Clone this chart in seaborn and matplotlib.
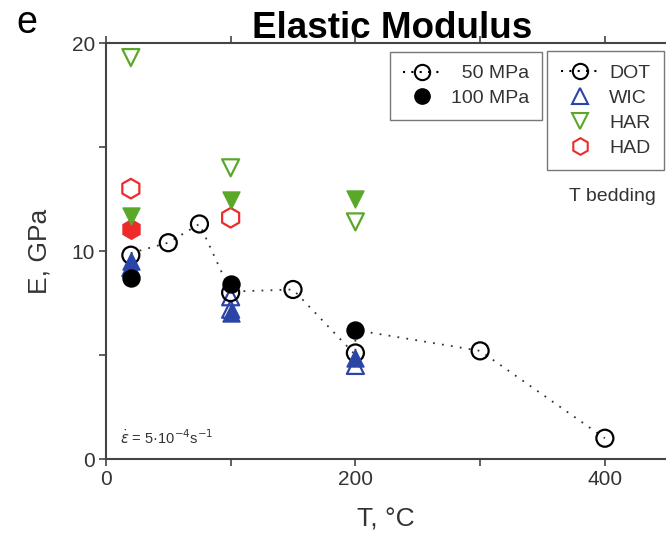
import pandas as pd
import matplotlib
matplotlib.use("Agg")
import matplotlib.pyplot as plt
from matplotlib.lines import Line2D
import seaborn as sns

# ---- data ----
# DOT, 50 MPa (open circles)
dot50_T = [20, 50, 75, 100, 150, 200, 300, 400]
dot50_E = [9.8, 10.4, 11.3, 8.0, 8.15, 5.1, 5.2, 1.0]
# DOT, 100 MPa (filled circles)
dot100_T = [20, 100, 200]
dot100_E = [8.7, 8.4, 6.2]
# WIC
wic50_T = [20, 100, 100, 200]
wic50_E = [9.2, 7.8, 7.2, 4.5]
wic100_T = [20, 100, 200]
wic100_E = [9.5, 7.0, 4.85]
# HAR
har50_T = [20, 100, 200]
har50_E = [19.3, 14.0, 11.4]
har100_T = [20, 100, 200]
har100_E = [11.7, 12.45, 12.5]
# HAD
had50_T = [20, 100]
had50_E = [13.0, 11.6]
had100_T = [20]
had100_E = [11.05]
# dotted trend line through the DOT points
trend_T = [20, 50, 75, 100, 150, 200, 200, 300, 400]
trend_E = [9.9, 10.4, 11.3, 8.05, 8.15, 5.0, 6.2, 5.2, 1.0]

x_ticks = [0, 100, 200, 300, 400]
x_labels = ["0", "", "200", "", "400"]
y_ticks = [0, 5, 10, 15, 20]
y_labels = ["0", "", "10", "", "20"]

colors = {"DOT": "black", "WIC": "#2b44a8", "HAR": "#5aa82a", "HAD": "#ee2a2a"}
markers = {"DOT": "o", "WIC": "^", "HAR": "v", "HAD": "h"}
sizes = {"DOT": 150, "WIC": 150, "HAR": 150, "HAD": 200}

sns.set_theme(style="white")
plt.rcParams["font.family"] = ["Liberation Sans", "DejaVu Sans"]

fig = plt.figure(figsize=(6.66, 5.35), dpi=100)
ax = fig.add_axes([0.159, 0.142, 0.841, 0.7776])

sns.lineplot(x=trend_T, y=trend_E, ax=ax, color="#333333", lw=1.3,
             linestyle=(0, (1, 4)), sort=False, estimator=None, zorder=1)


def draw(T, E, rock, filled):
    df = pd.DataFrame({"T": T, "E": E})
    c = colors[rock]
    if filled:
        sns.scatterplot(data=df, x="T", y="E", ax=ax, marker=markers[rock],
                        s=sizes[rock], color=c, edgecolor=c, linewidth=1.0, zorder=3)
    else:
        sns.scatterplot(data=df, x="T", y="E", ax=ax, marker=markers[rock],
                        s=sizes[rock], facecolor="none", edgecolor=c,
                        linewidth=1.6, zorder=2)


draw(had50_T, had50_E, "HAD", False)
draw(har50_T, har50_E, "HAR", False)
draw(wic50_T, wic50_E, "WIC", False)
draw(dot50_T, dot50_E, "DOT", False)
draw(had100_T, had100_E, "HAD", True)
draw(har100_T, har100_E, "HAR", True)
draw(wic100_T, wic100_E, "WIC", True)
draw(dot100_T, dot100_E, "DOT", True)

ax.set_xlim(0, 449)
ax.set_ylim(0, 20)
ax.set_xticks(x_ticks, x_labels)
ax.set_yticks(y_ticks, y_labels)
ax.tick_params(axis="both", which="major", direction="out", length=5, width=1.2,
               color="#444444", labelsize=15, labelcolor="#333333", pad=3,
               bottom=True, left=True, top=True)
for side in ["left", "bottom", "top"]:
    ax.spines[side].set_color("#444444")
    ax.spines[side].set_linewidth(1.5)
ax.spines["right"].set_visible(False)

ax.set_xlabel("T, °C", fontsize=19, color="#333333", labelpad=13)
ax.set_ylabel("E, GPa", fontsize=19, color="#333333", labelpad=14)

fig.text(0.589, 0.946, "Elastic Modulus", fontsize=26.5, fontweight="bold",
         color="black", ha="center", va="center")
fig.text(0.024, 0.957, "e", fontsize=27, color="black", ha="left", va="center")

ax.text(11, 1.05, r"$\dot{\varepsilon}$ = 5·10$^{-4}$s$^{-1}$", fontsize=10.5,
        color="#333333", ha="left", va="center")
ax.text(406, 12.6, "T bedding", fontsize=14, color="#333333",
        ha="center", va="center")

# legends
p_handles = [
    Line2D([0], [0], color="black", ls=(0, (1, 3)), marker="o", mfc="none",
           mec="black", ms=11, mew=1.5),
    Line2D([0], [0], color="none", marker="o", mfc="black", mec="black", ms=11),
]
leg1 = ax.legend(p_handles, ["  50 MPa", "100 MPa"], loc="upper left",
                 bbox_to_anchor=(0.507, 0.978), fontsize=14, frameon=True,
                 fancybox=False, edgecolor="#555555", handlelength=2.0,
                 handletextpad=0.5, labelspacing=0.37, borderpad=0.65,
                 borderaxespad=0)
leg1.get_frame().set_linewidth(1.0)
for t in leg1.get_texts():
    t.set_color("#333333")
ax.add_artist(leg1)

r_handles = [
    Line2D([0], [0], color="black", ls=(0, (1, 3)), marker="o", mfc="none",
           mec="black", ms=11, mew=1.5),
    Line2D([0], [0], color="none", marker="^", mfc="none", mec=colors["WIC"],
           ms=11, mew=1.5),
    Line2D([0], [0], color="none", marker="v", mfc="none", mec=colors["HAR"],
           ms=11, mew=1.5),
    Line2D([0], [0], color="none", marker="h", mfc="none", mec=colors["HAD"],
           ms=12, mew=1.5),
]
leg2 = ax.legend(r_handles, ["DOT", "WIC", "HAR", "HAD"], loc="upper left",
                 bbox_to_anchor=(0.7875, 0.981), fontsize=14, frameon=True,
                 fancybox=False, edgecolor="#555555", handlelength=2.0,
                 handletextpad=0.5, labelspacing=0.37, borderpad=0.7,
                 borderaxespad=0)
leg2.get_frame().set_linewidth(1.0)
for t in leg2.get_texts():
    t.set_color("#333333")

fig.savefig("out.png", dpi=100)
